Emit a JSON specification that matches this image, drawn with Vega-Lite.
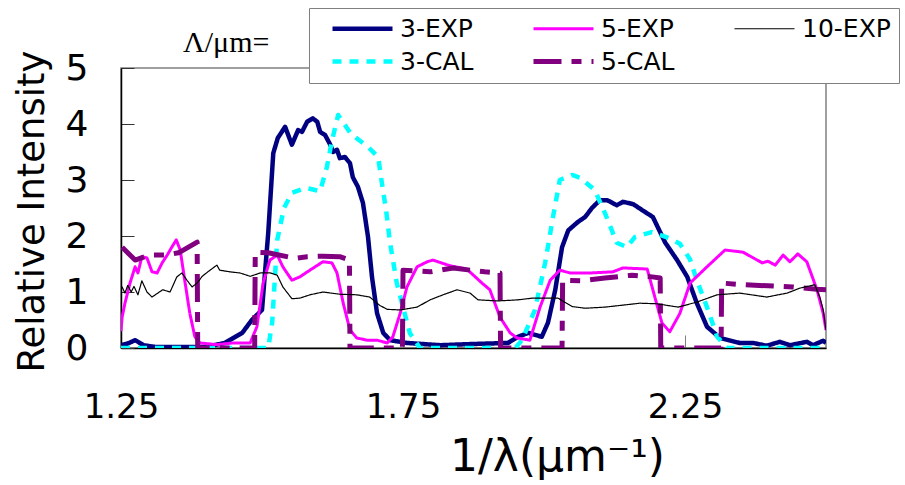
{
  "$schema": "https://vega.github.io/schema/vega-lite/v6.json",
  "width": 705,
  "height": 280,
  "autosize": {"type": "none"},
  "padding": {"left": 121, "top": 68, "right": 79, "bottom": 137},
  "background": "white",
  "config": {
    "font": "DejaVu Sans",
    "view": {"stroke": "#808080", "strokeWidth": 1.5}
  },
  "title": {
    "text": "Λ/μm=",
    "anchor": "start",
    "frame": "group",
    "dx": 62,
    "dy": 90,
    "offset": 16,
    "baseline": "alphabetic",
    "fontSize": 30,
    "fontWeight": "normal",
    "font": "Liberation Serif",
    "color": "black"
  },
  "data": {
    "values": [
      {"s": "3-EXP", "x": 1.25, "y": 0.05},
      {"s": "3-EXP", "x": 1.262, "y": 0.08},
      {"s": "3-EXP", "x": 1.275, "y": 0.14},
      {"s": "3-EXP", "x": 1.29, "y": 0.05},
      {"s": "3-EXP", "x": 1.31, "y": 0.02},
      {"s": "3-EXP", "x": 1.35, "y": 0.02},
      {"s": "3-EXP", "x": 1.4, "y": 0.02},
      {"s": "3-EXP", "x": 1.434, "y": 0.09},
      {"s": "3-EXP", "x": 1.465, "y": 0.27},
      {"s": "3-EXP", "x": 1.482, "y": 0.5},
      {"s": "3-EXP", "x": 1.5, "y": 0.68},
      {"s": "3-EXP", "x": 1.511, "y": 2.05},
      {"s": "3-EXP", "x": 1.52, "y": 3.48},
      {"s": "3-EXP", "x": 1.528, "y": 3.75},
      {"s": "3-EXP", "x": 1.541, "y": 3.95},
      {"s": "3-EXP", "x": 1.553, "y": 3.63},
      {"s": "3-EXP", "x": 1.564, "y": 3.89},
      {"s": "3-EXP", "x": 1.571, "y": 3.86},
      {"s": "3-EXP", "x": 1.58, "y": 4.04},
      {"s": "3-EXP", "x": 1.59, "y": 4.1},
      {"s": "3-EXP", "x": 1.598, "y": 4.04},
      {"s": "3-EXP", "x": 1.603, "y": 3.86},
      {"s": "3-EXP", "x": 1.612, "y": 3.8},
      {"s": "3-EXP", "x": 1.621, "y": 3.63},
      {"s": "3-EXP", "x": 1.626, "y": 3.5},
      {"s": "3-EXP", "x": 1.633, "y": 3.54},
      {"s": "3-EXP", "x": 1.638, "y": 3.39},
      {"s": "3-EXP", "x": 1.647, "y": 3.41},
      {"s": "3-EXP", "x": 1.656, "y": 3.3},
      {"s": "3-EXP", "x": 1.661, "y": 3.05},
      {"s": "3-EXP", "x": 1.67, "y": 2.88},
      {"s": "3-EXP", "x": 1.679, "y": 2.59},
      {"s": "3-EXP", "x": 1.688, "y": 1.98},
      {"s": "3-EXP", "x": 1.695, "y": 1.27},
      {"s": "3-EXP", "x": 1.704, "y": 0.62},
      {"s": "3-EXP", "x": 1.715, "y": 0.27},
      {"s": "3-EXP", "x": 1.727, "y": 0.14},
      {"s": "3-EXP", "x": 1.757, "y": 0.09},
      {"s": "3-EXP", "x": 1.816, "y": 0.05},
      {"s": "3-EXP", "x": 1.869, "y": 0.07},
      {"s": "3-EXP", "x": 1.936, "y": 0.09},
      {"s": "3-EXP", "x": 1.954, "y": 0.2},
      {"s": "3-EXP", "x": 1.972, "y": 0.27},
      {"s": "3-EXP", "x": 1.996, "y": 0.2},
      {"s": "3-EXP", "x": 2.007, "y": 0.45},
      {"s": "3-EXP", "x": 2.02, "y": 1.04},
      {"s": "3-EXP", "x": 2.032, "y": 1.8},
      {"s": "3-EXP", "x": 2.043, "y": 2.1},
      {"s": "3-EXP", "x": 2.06, "y": 2.25},
      {"s": "3-EXP", "x": 2.073, "y": 2.34},
      {"s": "3-EXP", "x": 2.085, "y": 2.5},
      {"s": "3-EXP", "x": 2.099, "y": 2.64},
      {"s": "3-EXP", "x": 2.112, "y": 2.64},
      {"s": "3-EXP", "x": 2.129, "y": 2.55},
      {"s": "3-EXP", "x": 2.14, "y": 2.61},
      {"s": "3-EXP", "x": 2.158, "y": 2.57},
      {"s": "3-EXP", "x": 2.179, "y": 2.43},
      {"s": "3-EXP", "x": 2.193, "y": 2.34},
      {"s": "3-EXP", "x": 2.215, "y": 1.88},
      {"s": "3-EXP", "x": 2.236, "y": 1.57},
      {"s": "3-EXP", "x": 2.254, "y": 1.27},
      {"s": "3-EXP", "x": 2.271, "y": 0.8},
      {"s": "3-EXP", "x": 2.289, "y": 0.38},
      {"s": "3-EXP", "x": 2.312, "y": 0.18},
      {"s": "3-EXP", "x": 2.347, "y": 0.09},
      {"s": "3-EXP", "x": 2.371, "y": 0.09},
      {"s": "3-EXP", "x": 2.395, "y": 0.04},
      {"s": "3-EXP", "x": 2.418, "y": 0.11},
      {"s": "3-EXP", "x": 2.436, "y": 0.05},
      {"s": "3-EXP", "x": 2.466, "y": 0.11},
      {"s": "3-EXP", "x": 2.477, "y": 0.05},
      {"s": "3-EXP", "x": 2.495, "y": 0.13},
      {"s": "3-EXP", "x": 2.5, "y": 0.09},

      {"s": "3-CAL", "x": 1.25, "y": 0},
      {"s": "3-CAL", "x": 1.35, "y": 0},
      {"s": "3-CAL", "x": 1.45, "y": 0},
      {"s": "3-CAL", "x": 1.511, "y": 0},
      {"s": "3-CAL", "x": 1.518, "y": 0.45},
      {"s": "3-CAL", "x": 1.527, "y": 1.93},
      {"s": "3-CAL", "x": 1.539, "y": 2.5},
      {"s": "3-CAL", "x": 1.553, "y": 2.77},
      {"s": "3-CAL", "x": 1.577, "y": 2.86},
      {"s": "3-CAL", "x": 1.603, "y": 2.8},
      {"s": "3-CAL", "x": 1.615, "y": 3.23},
      {"s": "3-CAL", "x": 1.624, "y": 3.7},
      {"s": "3-CAL", "x": 1.635, "y": 4.16},
      {"s": "3-CAL", "x": 1.658, "y": 3.82},
      {"s": "3-CAL", "x": 1.688, "y": 3.59},
      {"s": "3-CAL", "x": 1.706, "y": 3.41},
      {"s": "3-CAL", "x": 1.711, "y": 3.05},
      {"s": "3-CAL", "x": 1.72, "y": 2.46},
      {"s": "3-CAL", "x": 1.727, "y": 1.88},
      {"s": "3-CAL", "x": 1.739, "y": 1.16},
      {"s": "3-CAL", "x": 1.75, "y": 0.73},
      {"s": "3-CAL", "x": 1.762, "y": 0.27},
      {"s": "3-CAL", "x": 1.78, "y": 0},
      {"s": "3-CAL", "x": 1.85, "y": 0},
      {"s": "3-CAL", "x": 1.949, "y": 0},
      {"s": "3-CAL", "x": 1.961, "y": 0.14},
      {"s": "3-CAL", "x": 1.984, "y": 0.68},
      {"s": "3-CAL", "x": 2.002, "y": 1.52},
      {"s": "3-CAL", "x": 2.016, "y": 2.34},
      {"s": "3-CAL", "x": 2.028, "y": 3.0},
      {"s": "3-CAL", "x": 2.05, "y": 3.09},
      {"s": "3-CAL", "x": 2.064, "y": 3.04},
      {"s": "3-CAL", "x": 2.09, "y": 2.82},
      {"s": "3-CAL", "x": 2.108, "y": 2.41},
      {"s": "3-CAL", "x": 2.129, "y": 1.88},
      {"s": "3-CAL", "x": 2.147, "y": 1.8},
      {"s": "3-CAL", "x": 2.161, "y": 1.98},
      {"s": "3-CAL", "x": 2.191, "y": 2.07},
      {"s": "3-CAL", "x": 2.223, "y": 1.96},
      {"s": "3-CAL", "x": 2.241, "y": 1.86},
      {"s": "3-CAL", "x": 2.259, "y": 1.58},
      {"s": "3-CAL", "x": 2.271, "y": 1.21},
      {"s": "3-CAL", "x": 2.289, "y": 0.73},
      {"s": "3-CAL", "x": 2.307, "y": 0.2},
      {"s": "3-CAL", "x": 2.325, "y": 0},
      {"s": "3-CAL", "x": 2.4, "y": 0},
      {"s": "3-CAL", "x": 2.5, "y": 0},

      {"s": "5-EXP", "x": 1.25, "y": 0.3},
      {"s": "5-EXP", "x": 1.252, "y": 0.55},
      {"s": "5-EXP", "x": 1.257, "y": 0.8},
      {"s": "5-EXP", "x": 1.266, "y": 1.16},
      {"s": "5-EXP", "x": 1.275, "y": 1.45},
      {"s": "5-EXP", "x": 1.28, "y": 1.34},
      {"s": "5-EXP", "x": 1.287, "y": 1.63},
      {"s": "5-EXP", "x": 1.296, "y": 1.61},
      {"s": "5-EXP", "x": 1.305, "y": 1.36},
      {"s": "5-EXP", "x": 1.314, "y": 1.34},
      {"s": "5-EXP", "x": 1.323, "y": 1.52},
      {"s": "5-EXP", "x": 1.332, "y": 1.66},
      {"s": "5-EXP", "x": 1.34, "y": 1.8},
      {"s": "5-EXP", "x": 1.348, "y": 1.93},
      {"s": "5-EXP", "x": 1.355, "y": 1.75},
      {"s": "5-EXP", "x": 1.363, "y": 1.21},
      {"s": "5-EXP", "x": 1.372, "y": 0.62},
      {"s": "5-EXP", "x": 1.381, "y": 0.2},
      {"s": "5-EXP", "x": 1.39, "y": 0.09},
      {"s": "5-EXP", "x": 1.42, "y": 0.06},
      {"s": "5-EXP", "x": 1.449, "y": 0.09},
      {"s": "5-EXP", "x": 1.479, "y": 0.09},
      {"s": "5-EXP", "x": 1.491, "y": 0.38},
      {"s": "5-EXP", "x": 1.502, "y": 1.16},
      {"s": "5-EXP", "x": 1.514, "y": 1.57},
      {"s": "5-EXP", "x": 1.527, "y": 1.66},
      {"s": "5-EXP", "x": 1.537, "y": 1.45},
      {"s": "5-EXP", "x": 1.553, "y": 1.21},
      {"s": "5-EXP", "x": 1.567, "y": 1.27},
      {"s": "5-EXP", "x": 1.585, "y": 1.39},
      {"s": "5-EXP", "x": 1.608, "y": 1.54},
      {"s": "5-EXP", "x": 1.624, "y": 1.52},
      {"s": "5-EXP", "x": 1.633, "y": 1.34},
      {"s": "5-EXP", "x": 1.644, "y": 0.8},
      {"s": "5-EXP", "x": 1.656, "y": 0.32},
      {"s": "5-EXP", "x": 1.668, "y": 0.18},
      {"s": "5-EXP", "x": 1.686, "y": 0.14},
      {"s": "5-EXP", "x": 1.704, "y": 0.14},
      {"s": "5-EXP", "x": 1.722, "y": 0.09},
      {"s": "5-EXP", "x": 1.732, "y": 0.2},
      {"s": "5-EXP", "x": 1.745, "y": 0.62},
      {"s": "5-EXP", "x": 1.757, "y": 1.09},
      {"s": "5-EXP", "x": 1.775, "y": 1.45},
      {"s": "5-EXP", "x": 1.793, "y": 1.54},
      {"s": "5-EXP", "x": 1.803, "y": 1.57},
      {"s": "5-EXP", "x": 1.833, "y": 1.47},
      {"s": "5-EXP", "x": 1.863, "y": 1.41},
      {"s": "5-EXP", "x": 1.89, "y": 1.16},
      {"s": "5-EXP", "x": 1.904, "y": 1.04},
      {"s": "5-EXP", "x": 1.922, "y": 0.55},
      {"s": "5-EXP", "x": 1.94, "y": 0.27},
      {"s": "5-EXP", "x": 1.952, "y": 0.18},
      {"s": "5-EXP", "x": 1.975, "y": 0.14},
      {"s": "5-EXP", "x": 1.993, "y": 0.73},
      {"s": "5-EXP", "x": 2.011, "y": 1.21},
      {"s": "5-EXP", "x": 2.028, "y": 1.39},
      {"s": "5-EXP", "x": 2.046, "y": 1.34},
      {"s": "5-EXP", "x": 2.082, "y": 1.34},
      {"s": "5-EXP", "x": 2.122, "y": 1.36},
      {"s": "5-EXP", "x": 2.14, "y": 1.43},
      {"s": "5-EXP", "x": 2.183, "y": 1.41},
      {"s": "5-EXP", "x": 2.193, "y": 1.04},
      {"s": "5-EXP", "x": 2.209, "y": 0.45},
      {"s": "5-EXP", "x": 2.223, "y": 0.29},
      {"s": "5-EXP", "x": 2.241, "y": 0.62},
      {"s": "5-EXP", "x": 2.259, "y": 1.16},
      {"s": "5-EXP", "x": 2.289, "y": 1.45},
      {"s": "5-EXP", "x": 2.321, "y": 1.75},
      {"s": "5-EXP", "x": 2.353, "y": 1.71},
      {"s": "5-EXP", "x": 2.387, "y": 1.52},
      {"s": "5-EXP", "x": 2.397, "y": 1.55},
      {"s": "5-EXP", "x": 2.41, "y": 1.48},
      {"s": "5-EXP", "x": 2.424, "y": 1.66},
      {"s": "5-EXP", "x": 2.436, "y": 1.54},
      {"s": "5-EXP", "x": 2.45, "y": 1.68},
      {"s": "5-EXP", "x": 2.466, "y": 1.54},
      {"s": "5-EXP", "x": 2.484, "y": 1.04},
      {"s": "5-EXP", "x": 2.495, "y": 0.62},
      {"s": "5-EXP", "x": 2.5, "y": 0.32},

      {"s": "5-CAL", "x": 1.252, "y": 1.8},
      {"s": "5-CAL", "x": 1.275, "y": 1.57},
      {"s": "5-CAL", "x": 1.3, "y": 1.66},
      {"s": "5-CAL", "x": 1.33, "y": 1.66},
      {"s": "5-CAL", "x": 1.352, "y": 1.7},
      {"s": "5-CAL", "x": 1.385, "y": 1.89},
      {"s": "5-CAL", "x": 1.386, "y": 0},
      {"s": "5-CAL", "x": 1.487, "y": 0},
      {"s": "5-CAL", "x": 1.488, "y": 1.71},
      {"s": "5-CAL", "x": 1.511, "y": 1.7},
      {"s": "5-CAL", "x": 1.559, "y": 1.6},
      {"s": "5-CAL", "x": 1.58, "y": 1.63},
      {"s": "5-CAL", "x": 1.608, "y": 1.64},
      {"s": "5-CAL", "x": 1.638, "y": 1.63},
      {"s": "5-CAL", "x": 1.655, "y": 1.57},
      {"s": "5-CAL", "x": 1.656, "y": 0},
      {"s": "5-CAL", "x": 1.749, "y": 0},
      {"s": "5-CAL", "x": 1.75, "y": 1.39},
      {"s": "5-CAL", "x": 1.798, "y": 1.36},
      {"s": "5-CAL", "x": 1.839, "y": 1.43},
      {"s": "5-CAL", "x": 1.869, "y": 1.39},
      {"s": "5-CAL", "x": 1.895, "y": 1.36},
      {"s": "5-CAL", "x": 1.922, "y": 1.34},
      {"s": "5-CAL", "x": 1.923, "y": 0},
      {"s": "5-CAL", "x": 2.032, "y": 0},
      {"s": "5-CAL", "x": 2.033, "y": 1.21},
      {"s": "5-CAL", "x": 2.067, "y": 1.2},
      {"s": "5-CAL", "x": 2.108, "y": 1.25},
      {"s": "5-CAL", "x": 2.156, "y": 1.3},
      {"s": "5-CAL", "x": 2.192, "y": 1.27},
      {"s": "5-CAL", "x": 2.206, "y": 1.25},
      {"s": "5-CAL", "x": 2.207, "y": 0},
      {"s": "5-CAL", "x": 2.314, "y": 0},
      {"s": "5-CAL", "x": 2.315, "y": 1.16},
      {"s": "5-CAL", "x": 2.353, "y": 1.13},
      {"s": "5-CAL", "x": 2.397, "y": 1.11},
      {"s": "5-CAL", "x": 2.441, "y": 1.09},
      {"s": "5-CAL", "x": 2.484, "y": 1.05},
      {"s": "5-CAL", "x": 2.5, "y": 1.04},

      {"s": "10-EXP", "x": 1.25, "y": 1.05},
      {"s": "10-EXP", "x": 1.252, "y": 1.09},
      {"s": "10-EXP", "x": 1.257, "y": 0.98},
      {"s": "10-EXP", "x": 1.262, "y": 1.12},
      {"s": "10-EXP", "x": 1.268, "y": 1.0},
      {"s": "10-EXP", "x": 1.273, "y": 1.1},
      {"s": "10-EXP", "x": 1.28, "y": 0.95},
      {"s": "10-EXP", "x": 1.287, "y": 1.2},
      {"s": "10-EXP", "x": 1.296, "y": 1.0},
      {"s": "10-EXP", "x": 1.305, "y": 0.91},
      {"s": "10-EXP", "x": 1.324, "y": 1.04},
      {"s": "10-EXP", "x": 1.337, "y": 1.0},
      {"s": "10-EXP", "x": 1.349, "y": 1.27},
      {"s": "10-EXP", "x": 1.358, "y": 1.34},
      {"s": "10-EXP", "x": 1.367, "y": 1.21},
      {"s": "10-EXP", "x": 1.376, "y": 1.09},
      {"s": "10-EXP", "x": 1.385, "y": 1.16},
      {"s": "10-EXP", "x": 1.394, "y": 1.28},
      {"s": "10-EXP", "x": 1.404, "y": 1.36},
      {"s": "10-EXP", "x": 1.42, "y": 1.48},
      {"s": "10-EXP", "x": 1.425, "y": 1.39},
      {"s": "10-EXP", "x": 1.443, "y": 1.36},
      {"s": "10-EXP", "x": 1.461, "y": 1.34},
      {"s": "10-EXP", "x": 1.479, "y": 1.28},
      {"s": "10-EXP", "x": 1.497, "y": 1.34},
      {"s": "10-EXP", "x": 1.515, "y": 1.34},
      {"s": "10-EXP", "x": 1.527, "y": 1.3},
      {"s": "10-EXP", "x": 1.537, "y": 1.09},
      {"s": "10-EXP", "x": 1.553, "y": 0.88},
      {"s": "10-EXP", "x": 1.567, "y": 0.89},
      {"s": "10-EXP", "x": 1.585, "y": 0.95},
      {"s": "10-EXP", "x": 1.608, "y": 1.0},
      {"s": "10-EXP", "x": 1.638, "y": 0.96},
      {"s": "10-EXP", "x": 1.668, "y": 0.95},
      {"s": "10-EXP", "x": 1.691, "y": 0.91},
      {"s": "10-EXP", "x": 1.709, "y": 0.76},
      {"s": "10-EXP", "x": 1.722, "y": 0.69},
      {"s": "10-EXP", "x": 1.745, "y": 0.68},
      {"s": "10-EXP", "x": 1.775, "y": 0.73},
      {"s": "10-EXP", "x": 1.798, "y": 0.86},
      {"s": "10-EXP", "x": 1.821, "y": 0.95},
      {"s": "10-EXP", "x": 1.846, "y": 1.04},
      {"s": "10-EXP", "x": 1.869, "y": 0.98},
      {"s": "10-EXP", "x": 1.883, "y": 0.86},
      {"s": "10-EXP", "x": 1.918, "y": 0.84},
      {"s": "10-EXP", "x": 1.954, "y": 0.86},
      {"s": "10-EXP", "x": 1.979, "y": 0.89},
      {"s": "10-EXP", "x": 2.025, "y": 0.89},
      {"s": "10-EXP", "x": 2.05, "y": 0.74},
      {"s": "10-EXP", "x": 2.073, "y": 0.71},
      {"s": "10-EXP", "x": 2.108, "y": 0.73},
      {"s": "10-EXP", "x": 2.144, "y": 0.77},
      {"s": "10-EXP", "x": 2.17, "y": 0.8},
      {"s": "10-EXP", "x": 2.2, "y": 0.79},
      {"s": "10-EXP", "x": 2.238, "y": 0.73},
      {"s": "10-EXP", "x": 2.271, "y": 0.82},
      {"s": "10-EXP", "x": 2.307, "y": 0.95},
      {"s": "10-EXP", "x": 2.347, "y": 0.98},
      {"s": "10-EXP", "x": 2.395, "y": 0.91},
      {"s": "10-EXP", "x": 2.431, "y": 0.98},
      {"s": "10-EXP", "x": 2.454, "y": 1.07},
      {"s": "10-EXP", "x": 2.48, "y": 1.13},
      {"s": "10-EXP", "x": 2.489, "y": 0.91},
      {"s": "10-EXP", "x": 2.495, "y": 0.68},
      {"s": "10-EXP", "x": 2.5, "y": 0.32}
    ]
  },
  "mark": {"type": "line", "strokeJoin": "round", "clip": true},
  "encoding": {
    "x": {
      "field": "x",
      "type": "quantitative",
      "scale": {"domain": [1.25, 2.5], "nice": false, "zero": false},
      "axis": {
        "values": [1.25, 1.75, 2.25],
        "format": ".2f",
        "grid": false,
        "labelFontSize": 34,
        "labelColor": "black",
        "labelPadding": 55,
        "labelFlush": false,
        "tickSize": -13,
        "tickColor": "#808080",
        "domainColor": "black",
        "domainWidth": 1.5,
        "title": "1/λ(μm⁻¹)",
        "titleFontSize": 44,
        "titleFontWeight": "normal",
        "titleColor": "black",
        "titleX": 436,
        "titleY": 122,
        "titleBaseline": "alphabetic",
        "titleAlign": "center"
      }
    },
    "y": {
      "field": "y",
      "type": "quantitative",
      "scale": {"domain": [0, 5], "nice": false},
      "axis": {
        "values": [0, 1, 2, 3, 4, 5],
        "grid": false,
        "labelFontSize": 36,
        "labelColor": "black",
        "labelPadding": 46,
        "tickSize": -13,
        "tickColor": "#333333",
        "domainColor": "black",
        "domainWidth": 1.5,
        "title": "Relative Intensity",
        "titleFontSize": 37,
        "titleFontWeight": "normal",
        "titleColor": "black",
        "titleX": -78,
        "titleY": 143,
        "titleBaseline": "alphabetic",
        "titleAlign": "center",
        "titleAngle": -90
      }
    },
    "color": {
      "field": "s",
      "type": "nominal",
      "scale": {
        "domain": ["3-EXP", "5-EXP", "10-EXP", "3-CAL", "5-CAL"],
        "range": ["#000080", "#FF00FF", "#000000", "#00FFFF", "#800080"]
      },
      "legend": {
        "title": null,
        "orient": "none",
        "legendX": 188,
        "legendY": -60,
        "direction": "horizontal",
        "columns": 3,
        "symbolType": "stroke",
        "symbolSize": 3600,
        "symbolOffset": 13,
        "labelFontSize": 25,
        "labelColor": "black",
        "labelOffset": 5,
        "padding": 8,
        "rowPadding": 7,
        "columnPadding": 44,
        "clipHeight": 25,
        "fillColor": "white",
        "strokeColor": "#808080"
      }
    },
    "strokeDash": {
      "field": "s",
      "type": "nominal",
      "scale": {
        "domain": ["3-EXP", "5-EXP", "10-EXP", "3-CAL", "5-CAL"],
        "range": [[1, 0], [1, 0], [1, 0], [9, 8], [28, 10, 10, 10]]
      }
    },
    "strokeWidth": {
      "field": "s",
      "type": "nominal",
      "scale": {
        "type": "ordinal",
        "domain": ["3-EXP", "5-EXP", "10-EXP", "3-CAL", "5-CAL"],
        "range": [4.5, 3, 1.2, 4.5, 5]
      }
    }
  }
}
